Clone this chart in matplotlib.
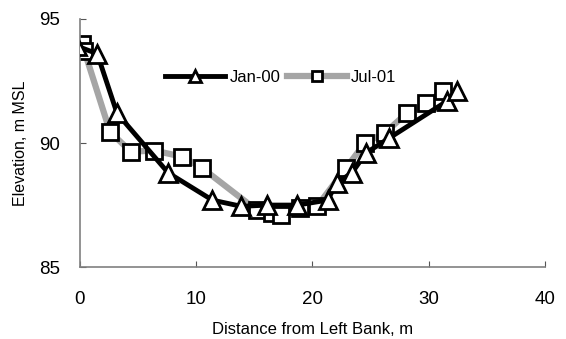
import matplotlib
matplotlib.use("Agg")
import matplotlib.pyplot as plt

plt.rcParams['font.family'] = ['Liberation Sans', 'DejaVu Sans']

# Jan-00 survey
jan_x = [-0.2, 1.5, 3.2, 7.6, 11.4, 13.9, 16.1, 18.7, 21.3, 22.1, 23.4, 24.6, 26.6, 31.6, 32.4]
jan_y = [93.9, 93.6, 91.2, 88.8, 87.7, 87.45, 87.5, 87.5, 87.7, 88.4, 88.8, 89.6, 90.2, 91.7, 92.1]

# Jul-01 survey
jul_x = [0.2, 0.4, 2.6, 4.4, 6.4, 8.8, 10.5, 15.2, 16.5, 17.3, 18.9, 20.4, 22.9, 24.5, 26.2, 28.1, 29.8, 31.2]
jul_y = [94.0, 93.7, 90.45, 89.65, 89.7, 89.45, 89.0, 87.3, 87.2, 87.1, 87.4, 87.45, 89.0, 90.0, 90.4, 91.2, 91.6, 92.1]

x_ticks = [0, 10, 20, 30, 40]
y_ticks = [85, 90, 95]

fig = plt.figure(figsize=(5.66, 3.39), dpi=100)
ax = fig.add_axes([0.141, 0.212, 0.822, 0.732])

ax.plot(jan_x, jan_y, color='black', lw=3.5, marker='^', markersize=13,
        markerfacecolor='white', markeredgecolor='black', markeredgewidth=2,
        label='Jan-00', zorder=3)
ax.plot(jul_x, jul_y, color='#a5a5a5', lw=4.5, marker='s', markersize=11,
        markerfacecolor='white', markeredgecolor='black', markeredgewidth=2,
        label='Jul-01', zorder=2)

ax.set_xlim(0, 40)
ax.set_ylim(85, 95)
ax.set_xticks(x_ticks)
ax.set_yticks(y_ticks)
ax.tick_params(direction='in', length=4, color='#555555', labelsize=13.5)
ax.tick_params(axis='x', pad=17)
ax.tick_params(axis='y', pad=14)

for side in ['top', 'right']:
    ax.spines[side].set_visible(False)
for side in ['left', 'bottom']:
    ax.spines[side].set_color('#808080')
    ax.spines[side].set_linewidth(1.2)

ax.set_xlabel('Distance from Left Bank, m', fontsize=12, labelpad=10)
ax.set_ylabel('Elevation, m MSL', fontsize=11.5, labelpad=8)

ax.legend(loc='center', bbox_to_anchor=(0.432, 0.766), ncol=2, frameon=False,
          fontsize=12, handlelength=3.6, columnspacing=0.4, handletextpad=0.25,
          markerscale=0.65)

fig.savefig('out.png', dpi=100)
